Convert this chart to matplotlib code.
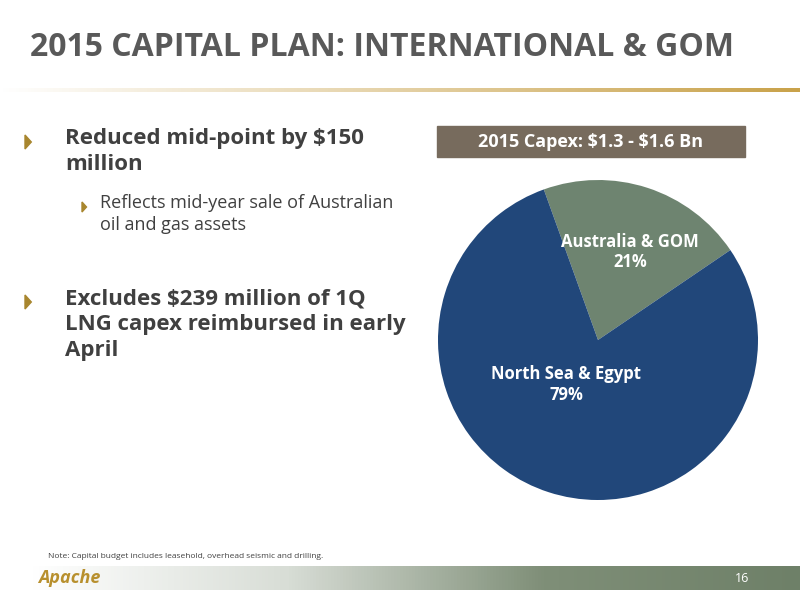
import matplotlib
matplotlib.use("Agg")
import matplotlib.pyplot as plt
import numpy as np
from matplotlib.colors import LinearSegmentedColormap

labels = ["Australia & GOM\n21%", "North Sea & Egypt\n79%"]
values = [21, 79]
colors = ["#6e8470", "#21477a"]

plt.rcParams["text.parse_math"] = False
fig = plt.figure(figsize=(8, 6), dpi=100)
fig.patch.set_facecolor("white")
bg = fig.add_axes([0, 0, 1, 1])
bg.set_xlim(0, 800); bg.set_ylim(600, 0); bg.axis("off")

fam = ["Open Sans", "DejaVu Sans"]
bg.text(30, 48, "2015 CAPITAL PLAN: INTERNATIONAL & GOM", fontsize=23, fontweight="bold",
        color="#595959", va="center", family=fam)
gold = LinearSegmentedColormap.from_list("g", ["#ffffff", "#c9a24a"])
bg.imshow(np.linspace(0, 1, 256)[None, :], extent=(0, 800, 92, 88), cmap=gold, aspect="auto")

tri = "#a8862e"
def bullet(x, y, s=7):
    bg.add_patch(plt.Polygon([[x, y - s], [x, y + s], [x + s * 0.9, y]], color=tri))
bullet(25, 142)
bg.text(65, 128, "Reduced mid-point by $150\nmillion", fontsize=16, fontweight="bold",
        color="#404040", va="top", linespacing=1.3, family=fam)
bullet(82, 207, 5)
bg.text(100, 194, "Reflects mid-year sale of Australian\noil and gas assets", fontsize=13,
        color="#404040", va="top", linespacing=1.3, family=fam)
bullet(25, 302)
bg.text(65, 288, "Excludes $239 million of 1Q\nLNG capex reimbursed in early\nApril", fontsize=16,
        fontweight="bold", color="#404040", va="top", linespacing=1.3, family=fam)

bg.add_patch(plt.Rectangle((437, 126), 308, 31, color="#776b5d"))
bg.text(591, 142, "2015 Capex: $1.3 - $1.6 Bn", fontsize=13, fontweight="bold",
        color="white", ha="center", va="center", family=fam)

bg.text(48, 556, "Note: Capital budget includes leasehold, overhead seismic and drilling.",
        fontsize=6, color="#404040", va="center", family=fam)
green = LinearSegmentedColormap.from_list("gr", ["#ffffff", "#d8ddd6", "#7f8f78", "#6e8068"])
bg.imshow(np.linspace(0, 1, 256)[None, :], extent=(30, 800, 590, 566), cmap=green, aspect="auto")
bg.text(38, 578, "Apache", fontsize=13, fontweight="bold", style="italic", color="#b8902e",
        va="center", family=fam)
bg.text(742, 578, "16", fontsize=9, color="white", ha="center", va="center", family=fam)

ax = fig.add_axes([(598 - 160) / 800, 1 - (340 + 160) / 600, 320 / 800, 320 / 600])
wedges, texts = ax.pie(values, colors=colors, startangle=109.8, counterclock=False,
                       labels=labels, labeldistance=0.0)
ax.set_xlim(-1, 1); ax.set_ylim(-1, 1)
ax.set_aspect("equal")
texts[0].set_position((0.2, 0.55))
texts[1].set_position((-0.2, -0.28))
for t in texts:
    t.set_color("white"); t.set_fontsize(12); t.set_fontweight("bold"); t.set_ha("center")
    t.set_va("center"); t.set_family(fam)

fig.savefig("out.png", dpi=100)
